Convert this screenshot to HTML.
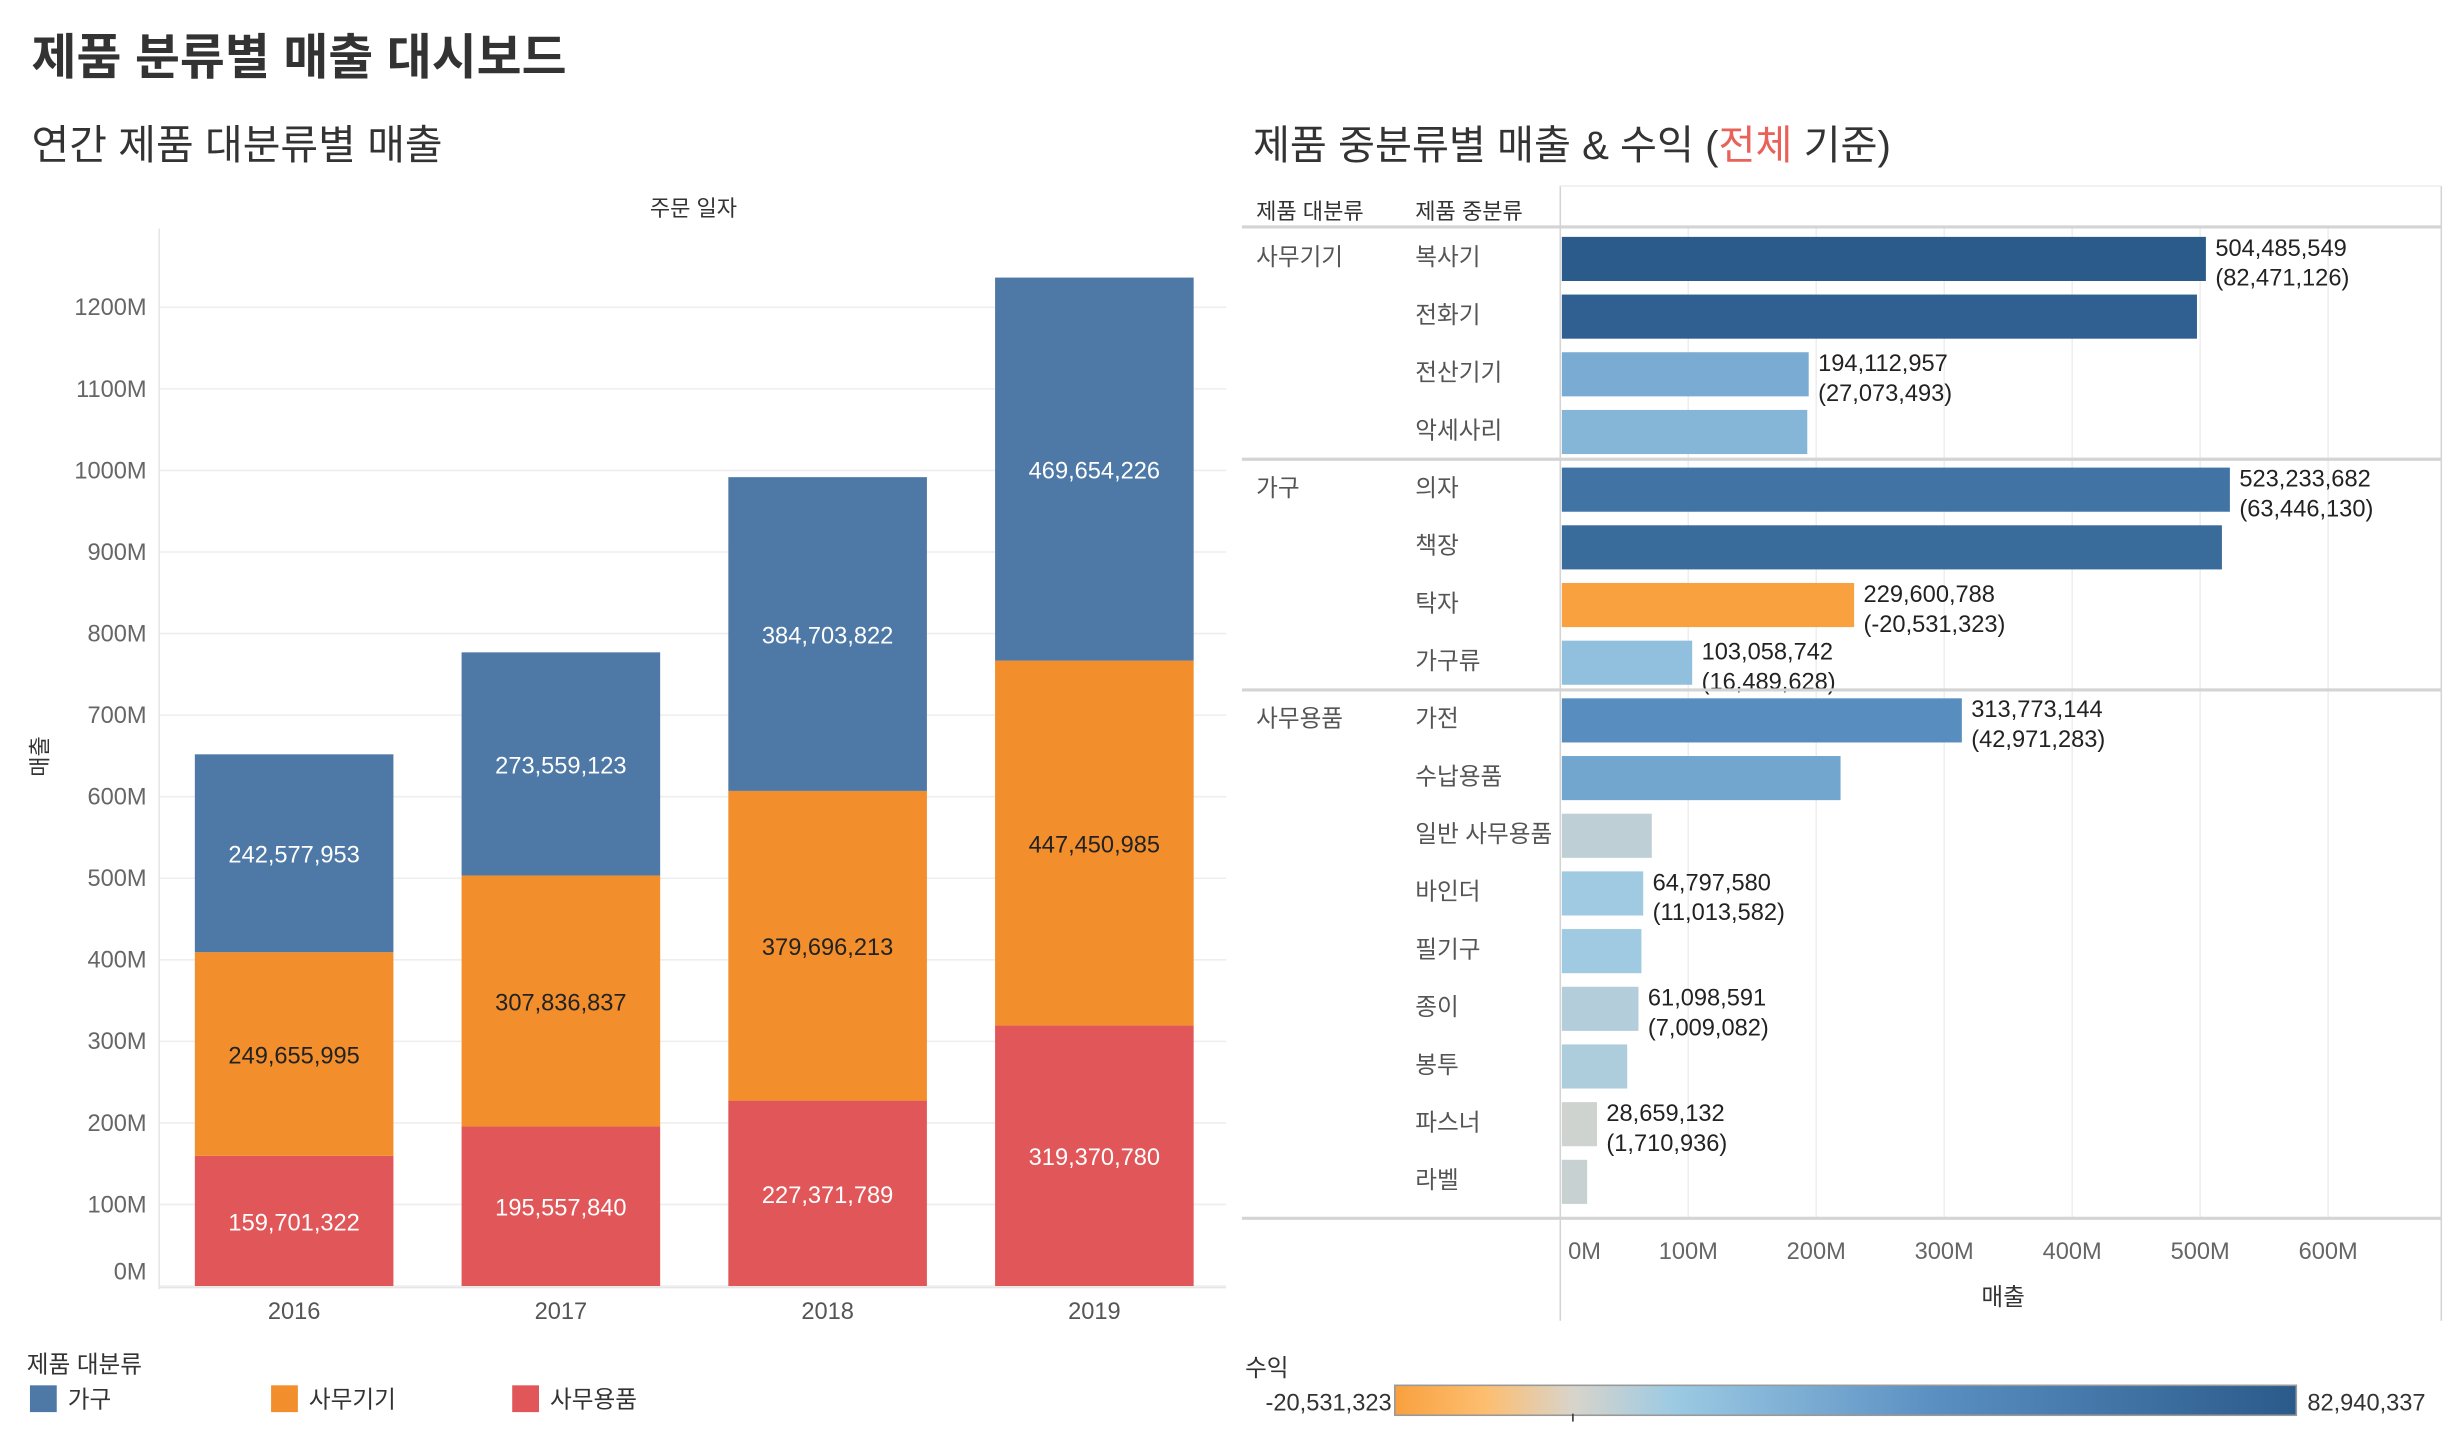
<!DOCTYPE html>
<html><head><meta charset="utf-8">
<style>
html,body{margin:0;padding:0;background:#fff;}
svg{display:block;font-family:"Liberation Sans","Noto Sans CJK KR",sans-serif;}
</style></head>
<body>
<svg id="root" width="2458" height="1446" viewBox="0 0 1559.6 917.5" preserveAspectRatio="none" xmlns="http://www.w3.org/2000/svg">
<text x="20" y="47" font-size="31" font-weight="bold" fill="#333">제품 분류별 매출 대시보드</text>
<text x="20" y="101" font-size="26" fill="#333">연간 제품 대분류별 매출</text>
<text x="440" y="137" font-size="14" fill="#333" text-anchor="middle">주문 일자</text>
<text transform="translate(30,480) rotate(-90)" font-size="14" fill="#333" text-anchor="middle">매출</text>
<g id="left"></g>
<text x="17" y="871" font-size="15" fill="#333">제품 대분류</text>
<g id="legend"></g>

<text x="795" y="101" font-size="25.5" fill="#333">제품 중분류별 매출 &amp; 수익 (<tspan fill="#e8625a">전체</tspan> 기준)</text>
<text x="797" y="139" font-size="14" fill="#333">제품 대분류</text>
<text x="898" y="139" font-size="14" fill="#333">제품 중분류</text>
<g id="right"></g>
<text x="1271" y="828" font-size="15" fill="#333" text-anchor="middle">매출</text>
<text x="790" y="873" font-size="15" fill="#333">수익</text>
<defs>
<linearGradient id="grad" x1="0" x2="1" y1="0" y2="0">
<stop offset="0" stop-color="#f9a03f"/>
<stop offset="0.1" stop-color="#fdbe6f"/>
<stop offset="0.198" stop-color="#d8d4cb"/>
<stop offset="0.31" stop-color="#9ccae3"/>
<stop offset="0.6" stop-color="#5a8fc2"/>
<stop offset="1" stop-color="#2a5a8a"/>
</linearGradient>
</defs>
<rect x="885" y="879" width="572" height="19" fill="url(#grad)" stroke="#999" stroke-width="1"/>
<line x1="998" x2="998" y1="897" y2="902" stroke="#333" stroke-width="1"/>
<text x="883" y="895" font-size="15" fill="#333" text-anchor="end">-20,531,323</text>
<text x="1464" y="895" font-size="15" fill="#333">82,940,337</text>
</svg>
<script>
const NS='http://www.w3.org/2000/svg';
// ---- left chart data ----
const years=['2016','2017','2018','2019'];
const seriesNames=['사무용품','사무기기','가구'];
const officeSupplies=[159701322,195557840,227371789,319370780];
const officeMachines=[249655995,307836837,379696213,447450985];
const furniture=[242577953,273559123,384703822,469654226];
const yTicks=[0,100,200,300,400,500,600,700,800,900,1000,1100,1200];
// ---- right chart data ----
const groups=['사무기기','사무기기','사무기기','사무기기','가구','가구','가구','가구','사무용품','사무용품','사무용품','사무용품','사무용품','사무용품','사무용품','사무용품','사무용품'];
const subcats=['복사기','전화기','전산기기','악세사리','의자','책장','탁자','가구류','가전','수납용품','일반 사무용품','바인더','필기구','종이','봉투','파스너','라벨'];
const sales=[504485549,497500000,194112957,193000000,523233682,517000000,229600788,103058742,313773144,219000000,71500000,64797580,63400000,61098591,52300000,28659132,21000000];
const profit=[82471126,78000000,27073493,22000000,63446130,70000000,-20531323,16489628,42971283,30000000,5000000,11013582,11000000,7009082,8000000,1710936,3000000];
const showLabel=[1,0,1,0,1,0,1,1,1,0,0,1,0,1,0,1,0];
const xTicks=[0,100,200,300,400,500,600];

function el(tag,attrs,parent,text){const e=document.createElementNS(NS,tag);for(const k in attrs)e.setAttribute(k,attrs[k]);if(text!==undefined)e.textContent=text;parent.appendChild(e);return e;}
const fmt=v=>Math.round(v).toLocaleString('en-US');

const L=document.getElementById('left');
const y0=816, pxPerM=0.5175;
const yS=v=>y0-v/1e6*pxPerM;
const plotL=101, plotR=778, band=(plotR-plotL)/years.length, barW=126;
const xC=i=>plotL+band*i+band/2+1;
yTicks.forEach(t=>{
  const y=yS(t*1e6);
  const g=el('line',{x1:plotL,x2:plotR,y1:y,y2:y,stroke:'#eeeeee','stroke-width':1},L);
  
  
  const tx=el('text',{x:93,y:Math.min(y+5,812),'font-size':15,fill:'#666','text-anchor':'end'},L,t+'M');
  
  
});
const ax=el('line',{x1:plotL,x2:plotL,y1:145,y2:818,stroke:'#e6e6e6','stroke-width':1},L);


const bx=el('line',{x1:plotL,x2:plotR,y1:817,y2:817,stroke:'#e6e6e6','stroke-width':1},L);


const colors=['#e15759','#f28e2b','#4e79a7'];
const txtColors=['#fff','#222','#fff'];
const segData=[officeSupplies,officeMachines,furniture];
years.forEach((yr,i)=>{
  let base=0;
  segData.forEach((arr,s)=>{
    const v=arr[i];
    const top=yS(base+v), bot=yS(base);
    const r=el('rect',{x:xC(i)-barW/2,y:top,width:barW,height:bot-top,fill:colors[s]},L);
    
    
    const t=el('text',{x:xC(i),y:(top+bot)/2+6,'font-size':15,fill:txtColors[s],'text-anchor':'middle'},L,fmt(v));
    
    
    base+=v;
  });
  const yl=el('text',{x:xC(i),y:837,'font-size':15,fill:'#555','text-anchor':'middle'},L,yr);
  
  
});
const LG=document.getElementById('legend');
[['가구','#4e79a7',19],['사무기기','#f28e2b',172],['사무용품','#e15759',325]].forEach(([n,c,x])=>{
  const r=el('rect',{x:x,y:879,width:17,height:17,fill:c},LG);
  
  
  const t=el('text',{x:x+24,y:893,'font-size':15,fill:'#333'},LG,n);
  
  
});

const R=document.getElementById('right');
const x0=990, pxPerM2=0.812;
const xS=v=>x0+v/1e6*pxPerM2;
const rowTop=145, rowH=36.6;
function hex(h){return [1,3,5].map(i=>parseInt(h.substr(i,2),16));}
function lerp(a,b,t){const A=hex(a),B=hex(b);return 'rgb('+A.map((v,i)=>Math.round(v+(B[i]-v)*t)).join(',')+')';}
const cStops=[[-20.53,'#f9a03f'],[-10,'#fdbe6f'],[0,'#d8d4cb'],[11.5,'#9ccae3'],[41.5,'#5a8fc2'],[82.94,'#2a5a8a']];
function colorOf(p){const m=p/1e6;for(let i=0;i<cStops.length-1;i++){if(m<=cStops[i+1][0]){return lerp(cStops[i][1],cStops[i+1][1],Math.max(0,(m-cStops[i][0])/(cStops[i+1][0]-cStops[i][0])));}}return cStops[cStops.length-1][1];}
xTicks.forEach(t=>{
  const x=xS(t*1e6);
  if(t>0){const g=el('line',{x1:x,x2:x,y1:145,y2:773,stroke:'#eeeeee','stroke-width':1},R);
  
  }
  const tx=el('text',{x:t===0?x+5:x,y:799,'font-size':15,fill:'#666','text-anchor':t===0?'start':'middle'},R,t+'M');
  
  
});
[[x0,118,x0,838],[1549,118,1549,838],[788,144,1549,144],[788,773,1549,773],[x0,118,1549,118]].forEach(([a,b,c,d],k)=>{
  const l=el('line',{x1:a,y1:b,x2:c,y2:d,stroke:k===4?'#eeeeee':'#d4d4d4','stroke-width':k>=2&&k<4?2:1},R);
  
  
});
subcats.forEach((s,i)=>{
  const yt=rowTop+rowH*i, yc=yt+rowH/2+1;
  if(i===0||groups[i]!==groups[i-1]){
    if(i>0){const l=el('line',{x1:788,x2:1549,y1:yt,y2:yt,stroke:'#d4d4d4','stroke-width':2},R);
    
    }
    const g=el('text',{x:797,y:yc+4,'font-size':15,fill:'#555'},R,groups[i]);
    
    
  }
  const t=el('text',{x:898,y:yc+4,'font-size':15,fill:'#555'},R,s);
  
  
  const b=el('rect',{x:x0+1,y:yc-14,width:xS(sales[i])-x0-1,height:28,fill:colorOf(profit[i])},R);
  
  
  if(showLabel[i]){
    const lx=xS(sales[i])+6;
    const l1=el('text',{x:lx,y:yc-2,'font-size':15,fill:'#222'},R,fmt(sales[i]));
    
    
    const l2=el('text',{x:lx,y:yc+17,'font-size':15,fill:'#222'},R,'('+(profit[i]<0?'-':'')+fmt(Math.abs(profit[i]))+')');
    
    
  }
});
</script>
</body></html>
